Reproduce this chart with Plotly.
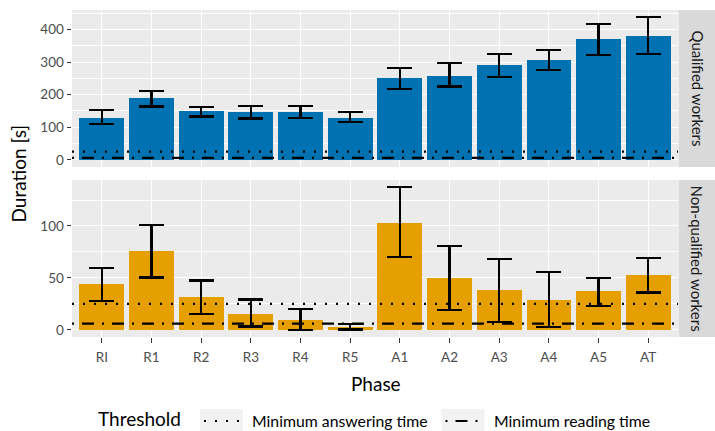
import plotly.graph_objects as go

# ---------------- data ----------------
phases = ["RI", "R1", "R2", "R3", "R4", "R5", "A1", "A2", "A3", "A4", "A5", "AT"]
facets = ["Qualified workers", "Non-qualified workers"]

qual_mean = [130, 189, 149, 146, 146, 130, 250, 258, 290, 305, 370, 379]
qual_low = [109, 164, 133, 127, 129, 117, 218, 225, 255, 275, 321, 324]
qual_high = [154, 212, 163, 166, 166, 146, 282, 298, 326, 338, 418, 438]

nonq_mean = [43.7, 75.6, 31.2, 15.7, 9.9, 3.2, 103.3, 49.5, 37.9, 29.2, 37.0, 52.4]
nonq_low = [27.6, 50.5, 15.4, 3.2, 0.0, 0.3, 70.5, 19.3, 7.7, 2.9, 23.2, 36.0]
nonq_high = [59.8, 101.0, 47.6, 29.2, 20.3, 5.4, 137.4, 80.4, 68.5, 55.6, 50.2, 69.5]

threshold_names = ["Minimum answering time", "Minimum reading time"]
threshold_values = [25, 6]

# ---------------- styles ----------------
W, H = 715, 431
FONT = "Lato, sans-serif"
BLUE = "#0072B2"
ORANGE = "#E69F00"
DASHES = ["2px,9px", "2px,8px,12px,8px"]
xpos = list(range(len(phases)))


def px_x(v):
    return v / W


def px_y(v):
    return 1 - v / H


panel_x = [px_x(72), px_x(678)]
panels = [
    dict(y=[px_y(167), px_y(10)], mean=qual_mean, lo=qual_low, hi=qual_high, color=BLUE,
         dtick=100, minor=50, strip=[10, 167]),
    dict(y=[px_y(337), px_y(180)], mean=nonq_mean, lo=nonq_low, hi=nonq_high, color=ORANGE,
         dtick=50, minor=25, strip=[180, 337]),
]

fig = go.Figure()
shapes = []
annotations = []

for i, p in enumerate(panels):
    sfx = "" if i == 0 else str(i + 1)
    fig.add_trace(go.Bar(
        x=xpos, y=p["mean"], width=0.9, marker=dict(color=p["color"], line=dict(width=0)),
        error_y=dict(type="data", symmetric=False,
                     array=[h - m for h, m in zip(p["hi"], p["mean"])],
                     arrayminus=[m - l for m, l in zip(p["mean"], p["lo"])],
                     color="black", thickness=2.2, width=12.5),
        xaxis="x" + sfx, yaxis="y" + sfx, showlegend=False, hoverinfo="skip",
    ))
    lo_d = min(0, min(p["lo"]))
    hi_d = max(p["hi"])
    exp = 0.05 * (hi_d - lo_d)
    last = i == len(panels) - 1
    fig.update_layout(**{
        "xaxis" + sfx: dict(domain=panel_x, range=[-0.6, len(phases) - 0.4],
                            tickvals=xpos, ticktext=phases, showticklabels=last,
                            ticks="outside" if last else "", ticklen=4.5, tickwidth=1.1,
                            tickcolor="#333333", showgrid=True, gridcolor="white",
                            gridwidth=1.4, zeroline=False, showline=False,
                            anchor="y" + sfx, ticklabelstandoff=3,
                            tickfont=dict(family=FONT, size=13.5, color="#4D4D4D")),
        "yaxis" + sfx: dict(domain=p["y"], range=[lo_d - exp, hi_d + exp],
                            tick0=0, dtick=p["dtick"], ticks="outside", ticklen=4.5,
                            tickwidth=1.1, tickcolor="#333333", showgrid=True,
                            gridcolor="white", gridwidth=1.4, zeroline=False,
                            showline=False, anchor="x" + sfx,
                            minor=dict(dtick=p["minor"], tick0=0, showgrid=True,
                                       gridcolor="white", gridwidth=0.7, ticks=""),
                            tickfont=dict(family=FONT, size=13.5, color="#4D4D4D")),
    })
    # threshold lines
    for tv, dash in zip(threshold_values, DASHES):
        shapes.append(dict(type="line", xref="x" + sfx + " domain", x0=0, x1=1,
                           yref="y" + sfx, y0=tv, y1=tv, layer="above",
                           line=dict(color="black", width=2.2, dash=dash)))
    # strip
    shapes.append(dict(type="rect", xref="paper", yref="paper",
                       x0=px_x(678.5), x1=px_x(715), y0=px_y(p["strip"][1]), y1=px_y(p["strip"][0]),
                       fillcolor="#D9D9D9", line=dict(width=0), layer="below"))
    annotations.append(dict(text=facets[i], xref="paper", yref="paper",
                            x=px_x(697), y=px_y(sum(p["strip"]) / 2), showarrow=False,
                            xanchor="center", yanchor="middle",
                            textangle=90, font=dict(family=FONT, size=15, color="#1A1A1A")))

# axis titles
annotations.append(dict(text="Duration [s]", xref="paper", yref="paper", x=px_x(18),
                        y=px_y(173.5), showarrow=False, textangle=-90,
                        xanchor="center", yanchor="middle",
                        font=dict(family=FONT, size=19, color="black")))
annotations.append(dict(text="Phase", xref="paper", yref="paper", x=px_x(376),
                        y=px_y(383), showarrow=False, xanchor="center", yanchor="middle",
                        font=dict(family=FONT, size=19, color="black")))

# legend (drawn manually, ggplot style)
annotations.append(dict(text="Threshold", xref="paper", yref="paper", x=px_x(97),
                        y=px_y(418.5), xanchor="left", yanchor="middle", showarrow=False,
                        borderpad=0, font=dict(family=FONT, size=19, color="black")))
key_left = [200, 441.5]
label_left = [251, 493]
for name, dash, kx, lx in zip(threshold_names, DASHES, key_left, label_left):
    shapes.append(dict(type="rect", xref="paper", yref="paper", x0=px_x(kx), x1=px_x(kx + 43),
                       y0=px_y(431), y1=px_y(409), fillcolor="#F2F2F2", line=dict(width=0)))
    shapes.append(dict(type="line", xref="paper", yref="paper", x0=px_x(kx + 4), x1=px_x(kx + 40),
                       y0=px_y(421), y1=px_y(421),
                       line=dict(color="black", width=2.2, dash=dash)))
    annotations.append(dict(text=name, xref="paper", yref="paper", x=px_x(lx), y=px_y(420),
                            xanchor="left", yanchor="middle", showarrow=False, borderpad=0,
                            font=dict(family=FONT, size=15.8, color="black")))

fig.update_layout(
    width=W, height=H, margin=dict(l=0, r=0, t=0, b=0),
    paper_bgcolor="white", plot_bgcolor="#EBEBEB",
    shapes=shapes, annotations=annotations, showlegend=False, bargap=0,
    font=dict(family=FONT),
)

fig.write_html("out.html", config={"displayModeBar": False},
               post_script="document.body.style.margin='0';")
